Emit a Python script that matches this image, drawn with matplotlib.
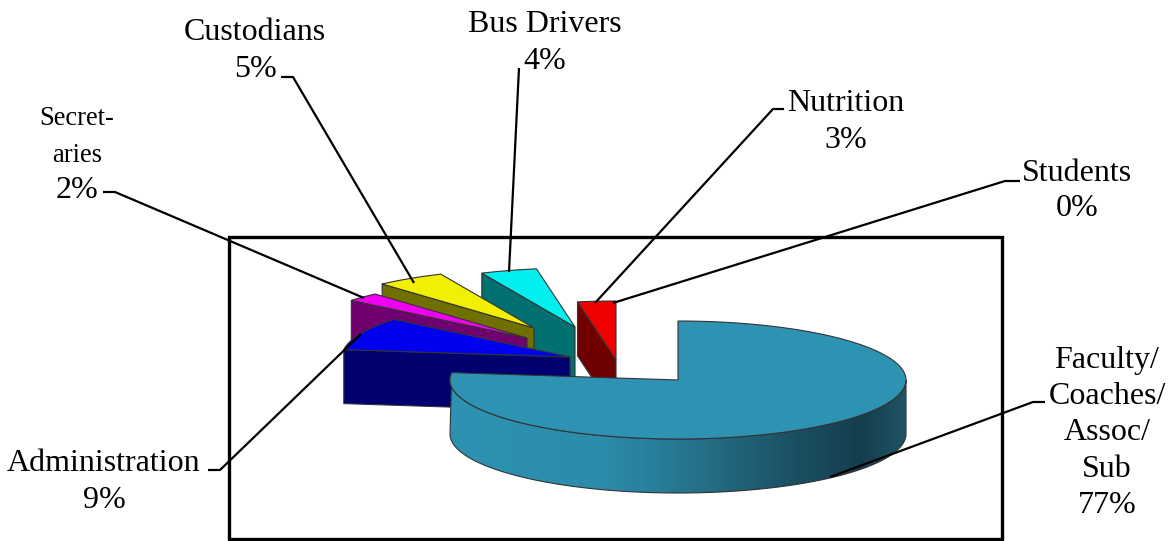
import numpy as np
import matplotlib
matplotlib.use('Agg')
import matplotlib.pyplot as plt
from matplotlib.colors import LinearSegmentedColormap
from matplotlib.patches import Polygon, Rectangle

plt.rcParams['font.family'] = ['Liberation Serif', 'DejaVu Serif']

# Slice values, clockwise from 12 o'clock (labels show the rounded numbers)
categories = ['Faculty', 'Administration', 'Secretaries', 'Custodians', 'Bus Drivers', 'Nutrition', 'Students']
shares = [77.0, 9.0, 2.4, 4.9, 4.0, 2.7, 0.0]
top_colors = ['#2E93B3', '#0000F0', '#F000F0', '#F0F000', '#00F0F0', '#F00000', '#F00000']
wall_colors = ['#2E93B3', '#000070', '#700070', '#707000', '#007070', '#700000', '#700000']

# Where each exploded slice has its apex, in pixels
apex_x = [678, 570, 527, 534, 575, 616, 616]
apex_y = [380, 357, 338, 328, 327, 360, 360]

# label text, font px, centre x, centre y, line spacing
label_lines = [
    ('Custodians\n5%', 32, 255, 51, 1.36),
    ('Bus Drivers\n4%', 32, 545, 43, 1.36),
    ('Nutrition\n3%', 32, 846, 122, 1.38),
    ('Students\n0%', 32, 1077, 191, 1.28),
    ('Administration\n9%', 32, 104, 482, 1.32),
    ('Faculty/\nCoaches/\nAssoc/\nSub\n77%', 32, 1107, 433, 1.34),
    ('2%', 32, 77, 191, 1.0),
    ('Secret-\naries', 26.5, 77, 137, 1.6),
]

# Leader lines
leaders = [
    ([281, 293, 414], [77, 77, 283]),
    ([103, 115, 364], [192, 192, 298]),
    ([519, 509], [68, 272]),
    ([784, 773, 595], [109, 109, 303]),
    ([1020, 1005, 613], [181, 181, 303]),
    ([208, 220, 361], [470, 470, 334]),
    ([1045, 1033, 830], [402, 402, 477]),
]

RX = 228
RY = 59
DEPTH = 54
EDGE = '#333333'


def arc(cx, cy, a0, a1, n=120):
    t = np.radians(np.linspace(a0, a1, n))
    return np.column_stack([cx + RX * np.sin(t), cy - RY * np.cos(t)])


def draw_slice(ax, cx, cy, a0, a1, top, wall):
    rim = arc(cx, cy, a0, a1)
    apex = np.array([cx, cy])
    drop = np.array([0, DEPTH])
    # radial wall on the side that faces the viewer
    ax.add_patch(Polygon([rim[0], apex, apex + drop, rim[0] + drop],
                         fc=wall, ec=EDGE, lw=0.8, zorder=3))
    ax.add_patch(Polygon(np.vstack([apex, rim]), fc=top, ec=EDGE, lw=0.8, zorder=3))


fig = plt.figure(figsize=(11.76, 5.41), dpi=100)
ax = fig.add_axes([0, 0, 1, 1])
ax.set_xlim(0, 1176)
ax.set_ylim(541, 0)
ax.axis('off')

ax.add_patch(Rectangle((229, 237), 773, 302, fill=False, ec='black', lw=2.4, zorder=1))

ends = np.cumsum(shares) * 3.6
starts = ends - np.array(shares) * 3.6

# back slices first, the big one on top
for i in range(len(shares) - 1, 0, -1):
    if shares[i] > 0:
        draw_slice(ax, apex_x[i], apex_y[i], starts[i], ends[i], top_colors[i], wall_colors[i])

# big slice: curved wall with the shading, then the top
cx, cy = apex_x[0], apex_y[0]
upper = arc(cx, cy, 90, ends[0], 200)
lower = arc(cx, cy, 90, 270, 200) + [0, DEPTH]
wall_shape = np.vstack([upper, lower[::-1]])
ax.add_patch(Polygon(wall_shape, fc='none', ec=EDGE, lw=0.8, zorder=4))
shade = LinearSegmentedColormap.from_list('shade', [
    (0.00, '#2E93B3'), (0.35, '#2B8BA9'), (0.55, '#256F88'),
    (0.76, '#1A4F61'), (0.90, '#143E4E'), (1.00, '#1F5566')])
img = ax.imshow(np.linspace(0, 1, 256)[None, :], cmap=shade, aspect='auto',
                extent=(450, 907, 500, 370), zorder=3.5)
img.set_clip_path(Polygon(wall_shape, transform=ax.transData))
ax.set_xlim(0, 1176)
ax.set_ylim(541, 0)
ax.add_patch(Polygon(np.vstack([[cx, cy], arc(cx, cy, starts[0], ends[0], 300)]),
                     fc=top_colors[0], ec=EDGE, lw=0.8, zorder=5))

for xs, ys in leaders:
    ax.plot(xs, ys, color='black', lw=1.6, zorder=6, solid_capstyle='butt')

for text, px, x, y, spacing in label_lines:
    ax.text(x, y, text, fontsize=px * 0.72, ha='center', va='center',
            linespacing=spacing, color='black', zorder=7)

fig.savefig('out.png', dpi=100)
